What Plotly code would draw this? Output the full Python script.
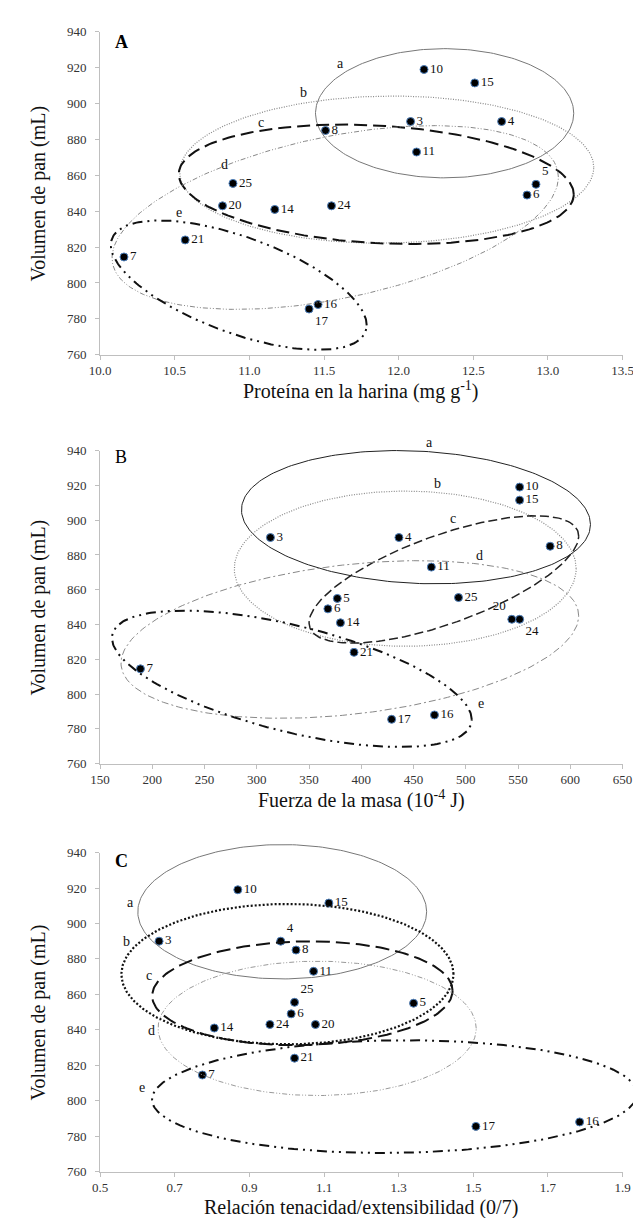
import numpy as np
import plotly.graph_objects as go

# ---------------- data ----------------
muestras = ["10", "15", "3", "4", "8", "11", "5", "6", "25", "20", "14", "24", "21", "7", "16", "17"]
volumen = [919, 911.5, 890, 890, 885, 873, 855, 849, 855.5, 843, 841, 843, 824, 814.5, 788, 785.5]
proteina = [12.17, 12.51, 12.08, 12.69, 11.51, 12.12, 12.92, 12.86, 10.89, 10.82, 11.17, 11.55, 10.57, 10.16, 11.46, 11.40]
fuerza = [551.5, 551.5, 313, 436, 580.7, 467, 377, 368, 493, 544, 380, 551.5, 393, 188.6, 470, 429]
relacion_pl = [0.869, 1.113, 0.658, 0.984, 1.025, 1.072, 1.34, 1.012, 1.021, 1.077, 0.806, 0.955, 1.021, 0.774, 1.785, 1.507]

# label placement (style)
pos_A = ["middle right"] * 16
pos_A[muestras.index("5")] = "top right"
pos_A[muestras.index("17")] = "bottom right"
pos_B = ["middle right"] * 16
pos_B[muestras.index("20")] = "top left"
pos_B[muestras.index("24")] = "bottom right"
pos_C = ["middle right"] * 16
pos_C[muestras.index("25")] = "top right"
pos_C[muestras.index("4")] = "top right"

# group ellipses: center x, center y, half-width, half-height, x-offset of top point (fraction)
grupos = ["a", "b", "c", "d", "e"]
ellA_cx = [12.308, 11.92, 11.85, 11.575, 10.929]
ellA_cy = [894.6, 863.2, 855.0, 836.5, 798.8]
ellA_w = [0.865, 1.387, 1.323, 1.495, 0.857]
ellA_h = [36.0, 41.0, 33.3, 51.2, 36.05]
ellA_k = [0.0, 0.03, -0.17, 0.44, -0.62]
labA_x = [11.61, 11.36, 11.08, 10.83, 10.53]
labA_y = [922.4, 905.9, 889.4, 866.2, 839.5]

ellB_cx = [452.3, 442.0, 479.0, 389.0, 333.5]
ellB_cy = [901.7, 872.1, 865.9, 831.4, 808.8]
ellB_w = [167.0, 163.6, 129.0, 219.0, 172.2]
ellB_h = [38.3, 44.6, 36.6, 45.3, 39.2]
ellB_k = [-0.11, 0.0, 0.68, 0.30, -0.6]
labB_x = [464.8, 472.7, 487.5, 513.0, 514.8]
labB_y = [944.5, 921.3, 900.8, 879.8, 794.6]

ellC_cx = [0.988, 1.002, 1.042, 1.0816, 1.289]
ellC_cy = [906.6, 871.4, 860.6, 840.8, 802.3]
ellC_w = [0.387, 0.445, 0.4025, 0.4263, 0.65]
ellC_h = [37.9, 39.6, 29.3, 37.9, 31.8]
ellC_k = [0.0, 0.0, 0.05, 0.0, 0.05]
labC_x = [0.582, 0.57, 0.632, 0.638, 0.613]
labC_y = [911.6, 889.8, 870.4, 839.5, 807.2]

x_titulos = ["Proteína en la harina (mg g<sup>-1</sup>)",
             "Fuerza de la masa (10<sup>-4</sup> J)",
             "Relación tenacidad/extensibilidad (0/7)"]
y_titulo = "Volumen de pan (mL)"
letras = ["<b>A</b>", "B", "<b>C</b>"]
x_rangos = [[10, 13.5], [150, 650], [0.5, 1.9]]
x_dtick = [0.5, 50, 0.2]
x_fmt = [".1f", "d", ".1f"]
y_rango = [760, 940]

# ---------------- styles ----------------
FONT = "Liberation Serif, Times New Roman, serif"
W, H = 641, 1218
PX_X = (84, 625)
PX_Y = [(17, 344), (441, 758), (848, 1171)]
GRAY = "#bfbfbf"

estilos = [
    # panel A
    [dict(color="#777777", width=1, dash="solid"),
     dict(color="#888888", width=1.2, dash="1px,1.5px"),
     dict(color="#111111", width=2, dash="13px,6px"),
     dict(color="#888888", width=1, dash="5px,2px,1px,2px,1px,2px"),
     dict(color="#111111", width=2, dash="10px,5px,2px,5px,2px,5px")],
    # panel B
    [dict(color="#222222", width=1, dash="solid"),
     dict(color="#888888", width=1.2, dash="1px,1.5px"),
     dict(color="#222222", width=1.5, dash="9px,4px"),
     dict(color="#888888", width=1, dash="7px,3px,2px,3px"),
     dict(color="#111111", width=2, dash="10px,5px,2px,5px,2px,5px")],
    # panel C
    [dict(color="#777777", width=1, dash="solid"),
     dict(color="#111111", width=2.2, dash="2px,2px"),
     dict(color="#111111", width=2, dash="14px,6px"),
     dict(color="#999999", width=1, dash="5px,2px,1px,2px,1px,2px"),
     dict(color="#111111", width=2, dash="10px,5px,2px,5px,2px,5px")],
]


def elipse(cx, cy, w, h, k, n=240):
    d = np.arccos(k)
    t = np.linspace(0, 2 * np.pi, n)
    return cx + w * np.cos(t), cy + h * np.cos(t - d)


def suf(n):
    return "" if n == 1 else str(n)


fig = go.Figure()

paneles = [
    (proteina, pos_A, ellA_cx, ellA_cy, ellA_w, ellA_h, ellA_k, labA_x, labA_y),
    (fuerza, pos_B, ellB_cx, ellB_cy, ellB_w, ellB_h, ellB_k, labB_x, labB_y),
    (relacion_pl, pos_C, ellC_cx, ellC_cy, ellC_w, ellC_h, ellC_k, labC_x, labC_y),
]

layout_axes = {}
annotations = []
pad_l, pad_r, pad_t, pad_b = 45, 16, 14, 30

for i, (xs, pos, ecx, ecy, ew, eh, ek, lx, ly) in enumerate(paneles):
    n = suf(i + 1)
    m = suf(i + 4)
    py0, py1 = PX_Y[i]
    xr = x_rangos[i]
    xdom = [PX_X[0] / W, PX_X[1] / W]
    ydom = [1 - py1 / H, 1 - py0 / H]
    # main axes
    layout_axes[f"xaxis{n}"] = dict(
        domain=xdom, range=xr, anchor=f"y{n}", dtick=x_dtick[i], tick0=xr[0],
        tickformat=x_fmt[i], showgrid=False, zeroline=False, showline=True,
        linecolor=GRAY, linewidth=1, ticks="outside", ticklen=4, tickcolor=GRAY,
        tickfont=dict(family=FONT, size=13, color="#333333"), fixedrange=True)
    layout_axes[f"yaxis{n}"] = dict(
        domain=ydom, range=y_rango, anchor=f"x{n}", dtick=20, tick0=760,
        showgrid=False, zeroline=False, showline=True, linecolor=GRAY, linewidth=1,
        ticks="outside", ticklen=4, tickcolor=GRAY, ticklabelstandoff=6,
        tickfont=dict(family=FONT, size=13, color="#333333"), fixedrange=True)
    # overlay axes (same scale, larger clip area) for group ellipses
    sx = (xr[1] - xr[0]) / (PX_X[1] - PX_X[0])
    sy = (y_rango[1] - y_rango[0]) / (py1 - py0)
    pt = min(pad_t, py0 - 1)
    layout_axes[f"xaxis{m}"] = dict(
        domain=[(PX_X[0] - pad_l) / W, (PX_X[1] + pad_r) / W],
        range=[xr[0] - pad_l * sx, xr[1] + pad_r * sx], anchor=f"y{m}",
        visible=False, fixedrange=True)
    layout_axes[f"yaxis{m}"] = dict(
        domain=[1 - (py1 + pad_b) / H, 1 - (py0 - pt) / H],
        range=[y_rango[0] - pad_b * sy, y_rango[1] + pt * sy],
        anchor=f"x{m}", visible=False, fixedrange=True)

    # points
    fig.add_trace(go.Scatter(
        x=xs, y=volumen, mode="markers+text", text=muestras, textposition=pos,
        textfont=dict(family=FONT, size=13, color="#111111"),
        marker=dict(size=8, color="#000000", line=dict(color="#4f81bd", width=1)),
        xaxis=f"x{n}", yaxis=f"y{n}", showlegend=False, hoverinfo="skip"))

    # ellipses
    for j, g in enumerate(grupos):
        ex, ey = elipse(ecx[j], ecy[j], ew[j], eh[j], ek[j])
        fig.add_trace(go.Scatter(
            x=ex, y=ey, mode="lines", line=estilos[i][j], xaxis=f"x{m}", yaxis=f"y{m}",
            showlegend=False, hoverinfo="skip"))
        annotations.append(dict(
            x=lx[j], y=ly[j], xref=f"x{m}", yref=f"y{m}", text=g, showarrow=False,
            font=dict(family=FONT, size=14, color="#111111")))

    # panel letter
    annotations.append(dict(
        x=(97 - PX_X[0]) / (PX_X[1] - PX_X[0]), y=[0.968, 0.979, 0.975][i],
        xref=f"x{n} domain", yref=f"y{n} domain", xanchor="left", yanchor="middle",
        text=letras[i], showarrow=False, font=dict(family=FONT, size=18, color="#000000")))
    # axis titles
    annotations.append(dict(
        x=(PX_X[0] + PX_X[1]) / 2 / W, y=1 - (py1 + 36) / H, xref="paper", yref="paper",
        xanchor="center", yanchor="middle", text=x_titulos[i], showarrow=False,
        font=dict(family=FONT, size=20, color="#111111")))
    annotations.append(dict(
        x=20 / W, y=1 - (py0 + py1) / 2 / H, xref="paper", yref="paper",
        xanchor="center", yanchor="middle", text=y_titulo, textangle=-90, showarrow=False,
        font=dict(family=FONT, size=20, color="#111111")))

fig.update_layout(
    width=W, height=H, margin=dict(l=0, r=0, t=0, b=0),
    paper_bgcolor="white", plot_bgcolor="rgba(0,0,0,0)",
    annotations=annotations, **layout_axes)

fig.write_html("out.html")
